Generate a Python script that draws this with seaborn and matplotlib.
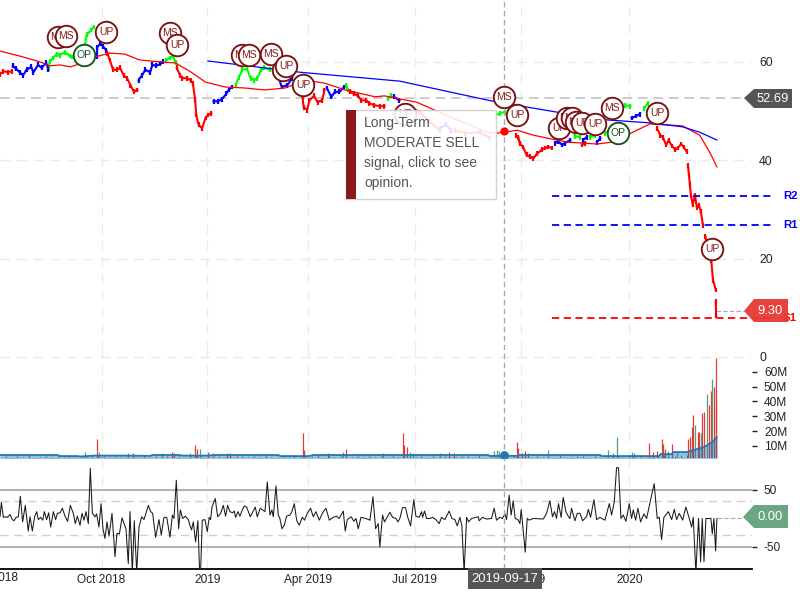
import numpy as np
import pandas as pd
import matplotlib
matplotlib.use("Agg")
import matplotlib.pyplot as plt
from matplotlib.patches import Polygon, Rectangle
from matplotlib.transforms import Affine2D
import seaborn as sns

# ---------- data (x = calendar days from chart start) ----------
x_tick_days = [88, 179.7, 267.1, 359, 451.6, 545.2]
x_tick_labels = ["Oct 2018", "2019", "Apr 2019", "Jul 2019", "Oct 2019", "2020"]

red_days = [
    [0, 3, 7, 10],
    [93, 95, 98, 101, 104, 107, 110, 113, 116, 119],
    [153, 156, 158, 162, 165, 167, 169, 170, 172, 175, 178, 180, 183],
    [262, 263, 266, 268, 272, 275, 279, 281],
    [303, 307, 310, 313, 317, 320, 324, 329, 333],
    [351, 364, 372, 381],
    [394, 403, 416, 424],
    [447, 449, 450, 453, 456, 459, 462, 465, 469, 472, 475, 478],
    [504, 507],
    [569, 572, 574, 577, 579, 582, 585, 587, 590, 592, 595],
    [595.8, 596.7, 597.5, 598.4, 600, 601.9, 603.6, 605.3, 607, 608.8],
    [611, 613],
    [616, 617.5, 620],
    [620, 620.1],
]
red_vals = [
    [57.5, 58.1, 57.9, 58.1],
    [61.8, 60.4, 58.4, 58.4, 58.8, 57.3, 56.7, 55.3, 53.9, 54.3],
    [58.8, 57.3, 56.7, 56.7, 56.3, 55.7, 52.3, 49.2, 47.2, 46.5, 48.6, 49.2, 49.6],
    [52.9, 50.8, 50.2, 52.2, 53.1, 51.8, 52.2, 54.3],
    [53.9, 53.5, 53.1, 52.2, 52.2, 51.6, 51.2, 51.0, 51.0],
    [51.2, 49.8, 47.8, 46.1],
    [46.1, 45.5, 45.7, 44.5],
    [45.1, 44.7, 43.5, 42.7, 41.1, 40.7, 40.4, 41.3, 42.1, 42.5, 42.7, 42.5],
    [43.1, 43.5],
    [46.5, 45.1, 44.7, 43.1, 44.1, 42.9, 42.1, 42.5, 43.3, 42.7, 41.7],
    [39.0, 37.0, 35.0, 32.9, 30.9, 32.9, 30.3, 30.9, 29.5, 26.8],
    [24.4, 22.1],
    [19.7, 15.6, 13.6],
    [11.3, 8.4],
]
blue_days = [
    [11, 14, 17, 20, 23, 27, 29, 33, 36, 40, 42],
    [84, 84.2, 87, 89, 92],
    [120, 123, 126, 130, 132, 135, 139, 141],
    [185, 189, 192, 196, 198, 201],
    [237, 241, 244, 249, 253],
    [283, 287, 290, 294, 298],
    [341, 346],
    [381, 386, 391],
    [481, 483, 487, 489, 494],
    [505, 508],
    [517, 520],
    [547, 551, 554],
]
blue_vals = [
    [59.2, 58.6, 57.9, 57.3, 58.4, 59.0, 57.9, 59.4, 58.8, 59.8, 58.4],
    [61.0, 63.0, 63.8, 63.2, 62.4],
    [56.3, 57.3, 58.4, 57.9, 59.4, 59.2, 59.6, 60.0],
    [52.0, 52.0, 52.4, 53.5, 54.3, 54.9],
    [57.9, 57.1, 54.9, 55.3, 56.7],
    [54.7, 52.9, 53.9, 53.9, 54.9],
    [52.9, 52.2],
    [46.5, 47.2, 46.1],
    [43.5, 43.9, 43.1, 43.5, 44.1],
    [44.1, 44.7],
    [43.7, 44.5],
    [48.6, 49.0, 49.4],
]
green_days = [
    [42, 43, 46, 49, 52, 56, 61, 62, 73, 75, 79, 81],
    [144, 147, 150, 152],
    [204, 207, 210, 214, 217, 220, 223, 226, 229, 234],
    [300, 301],
    [336, 339],
    [430, 433, 437],
    [498, 502],
    [511, 515],
    [524, 528],
    [541, 546],
    [558, 561],
]
green_vals = [
    [58.4, 60.0, 60.8, 61.6, 61.4, 62.0, 61.2, 61.0, 62.8, 65.5, 66.5, 67.1],
    [60.4, 60.8, 61.2, 59.8],
    [55.3, 56.9, 58.4, 58.6, 56.7, 56.3, 56.7, 58.4, 58.8, 58.4],
    [55.3, 54.3],
    [52.6, 53.1],
    [49.2, 49.6, 49.8],
    [44.9, 44.7],
    [44.7, 45.1],
    [45.5, 46.1],
    [51.2, 51.0],
    [50.6, 51.6],
]

ma_fast_days = [0, 17, 35, 43, 52, 61, 69, 82, 95, 108, 121, 139, 152, 165, 178, 195, 212, 229, 247,
                264, 281, 299, 325, 333, 361, 390, 422, 430, 448, 462, 474, 491, 517, 531, 548, 563,
                591, 606, 615, 621]
ma_fast_vals = [62.2, 61.2, 60.0, 59.2, 59.4, 59.0, 59.6, 61.0, 61.8, 61.6, 60.4, 60.0, 59.8, 58.0, 55.9,
                54.9, 54.7, 54.3, 54.7, 56.3, 55.7, 54.3, 52.9, 53.1, 51.8, 48.8, 45.7, 45.5, 46.1,
                45.1, 44.5, 43.7, 43.3, 43.7, 45.7, 47.4, 47.0, 45.1, 41.5, 38.6]
ma_slow_days = [180, 260, 346, 427, 482, 526, 563, 591, 606, 621]
ma_slow_vals = [60.2, 57.9, 56.1, 52.0, 49.8, 48.2, 47.6, 46.8, 45.7, 44.1]

last_close = 52.69
last_price = 9.30
level_names = ["R2", "R1", "S1"]
level_vals = [32.7, 26.8, 7.9]
level_colors = ["#0000ff", "#0000ff", "#ff0000"]

sig_days = [50.2, 57.2, 72.7, 91.8, 147.2, 153.3, 209.6, 215.6, 234.7, 245, 247.7, 262.4, 350.7,
            436.5, 447.7, 484.1, 491, 495.4, 498.8, 504, 515.3, 530, 535.2, 569, 616.6]
sig_vals = [65.1, 65.3, 61.4, 66.1, 65.9, 63.4, 61.4, 61.4, 61.6, 58.4, 59.2, 55.3, 49.4,
            52.9, 49.2, 46.6, 48.6, 48.6, 47.8, 47.6, 47.4, 50.6, 45.5, 49.6, 21.9]
sig_text = ["MS", "MS", "OP", "UP", "MS", "UP", "MS", "MS", "MS", "UP", "UP", "UP", "UP",
            "MS", "UP", "UP", "MS", "MS", "MS", "UP", "UP", "MS", "OP", "UP", "UP"]

red_vol_days = [84, 115, 149, 151, 169, 171, 180, 197, 199, 262, 262.9, 263.6, 284, 300, 332, 349, 350,
                352.5, 389, 393, 448, 449, 452, 455, 457, 562, 565.5, 569, 573, 574, 576, 582, 596,
                597.5, 599, 600, 604.5, 605, 608, 609.7, 614, 615.7, 618, 620, 620.5]
red_vol_vals = [14.7, 5, 6, 5, 11, 8, 6, 5, 5, 18.5, 7, 6, 5, 8, 5, 18.5, 11, 9, 6, 5, 12.5, 8.5, 5.5, 6.5,
                5.5, 12, 6, 6.5, 15, 11.3, 8, 11.3, 15, 16, 23, 31, 19.5, 19.5, 32, 33, 37.6, 47, 50,
                41, 69]
green_vol_days = [73.6, 85.7, 111, 140, 164.5, 173, 184.5, 297, 355, 357.7, 381, 428, 430.4, 432,
                  474.6, 527, 531, 534.3, 547, 549, 578.5, 586, 602, 607, 612, 616.6]
green_vol_vals = [6, 6, 5, 5, 5, 8, 5, 6, 6, 5, 5, 6.5, 7, 6.5, 7, 7, 5, 16, 6, 5, 6.5, 6.5, 24, 19, 45, 55]

base_vol_vals = [2.8, 3.4, 2.6, 3.1, 2.5, 3.6, 2.9, 2.4, 3.2, 2.7, 3.5, 2.6, 3.0, 2.4, 3.3, 2.8, 3.6, 2.5,
                 3.1, 2.7, 3.4, 2.6, 2.9, 3.7, 2.4, 3.2, 2.8, 3.5, 2.5, 3.0, 2.6, 3.4, 2.9, 2.4, 3.6, 2.7,
                 3.1, 2.5, 3.3, 2.8, 2.6, 3.5, 3.0, 2.4, 3.2, 2.7, 3.6, 2.5, 2.9, 3.3, 2.6, 3.4, 2.8, 2.4,
                 3.1, 3.7, 2.6, 3.0, 2.5, 3.4, 2.9, 2.7, 3.5, 2.4, 3.2, 2.8, 3.0, 2.6, 3.6, 2.5, 3.3, 2.9,
                 2.4, 3.1, 2.7, 3.5, 2.6, 3.2, 2.8, 2.5, 3.4, 3.0, 2.7, 3.6, 2.4, 3.1, 2.9, 3.3, 2.5, 3.5,
                 2.6, 3.0, 2.8, 3.4, 2.4, 3.2, 2.7, 3.6, 2.9, 2.5, 3.1, 3.3, 2.6, 3.5, 2.8, 2.4, 3.0, 3.4,
                 2.7, 3.2, 2.5, 3.6, 2.9, 2.6, 3.1, 3.7, 2.8, 3.3, 3.6, 4.2, 3.8, 4.5, 5.1]

vol_ma_days = [0, 50, 52, 68, 69, 82, 112, 130, 132, 156, 158, 180, 186, 241, 243, 268, 271, 423, 424,
               448, 450, 520, 521, 571, 572, 582, 583, 595, 604, 610, 617, 621]
vol_ma_vals = [3.9, 3.9, 3.2, 3.2, 2.9, 3.5, 3.5, 3.3, 3.9, 3.9, 3.5, 3.5, 3.9, 3.9, 3.2, 3.2, 3.9, 3.9, 3.3,
               3.3, 3.9, 3.9, 3.2, 3.2, 4.5, 4.5, 5.9, 5.9, 8.0, 9.3, 12.7, 16.0]

osc_days = [0, 1.2, 2.9, 4.6, 6.4, 8.7, 10.7, 12.1, 13.9, 15.9, 17.6, 19.6, 21.9, 24.5, 26, 28, 30, 31.8, 33.2,
            35.2, 37, 38.4, 40.4, 42.2, 43.9, 46.2, 48.2, 49.7, 52, 54, 56.3, 58.6, 60.9, 63.5, 65.2, 67, 69.3,
            71, 72.8, 74.5, 76.5, 78.2, 80, 82.3, 83.7, 85.7, 87.5, 89.2, 90.9, 92.7, 94.4, 97, 99.6, 101.3,
            103.4, 105.7, 109.1, 111.1, 112.6, 114.6, 116.3, 118.4, 120.4, 122.7, 124.7, 128.5, 130.5, 132.2,
            134.8, 137.7, 139.7, 142, 144.4, 147.2, 149.3, 150.7, 152.7, 154.7, 156.2, 158.2, 160.5, 163.1,
            164.5, 165.9, 167.4, 169.4, 171.4, 172.9, 173.7, 175.2, 177.5, 179.5, 181.2, 182.4, 183.6, 186.4,
            188.5, 191.1, 193.4, 195.4, 197.1, 199.1, 201.5, 202.9, 204, 206.1, 207.8, 209.8, 211.6, 213.6,
            216.8, 221.1, 222.8, 225.4, 229.5, 231.5, 233.8, 235.5, 236.7, 239, 241, 242.4, 244.2, 246.2,
            248.2, 251.1, 252.8, 254.9, 256.9, 259.2, 261.8, 263.8, 266.1, 269, 271.3, 273.6, 276.5, 279.4,
            282.3, 285.2, 288.6, 291.5, 293.8, 297.3, 299, 300.8, 304.2, 306.5, 308.3, 310.3, 312.6, 316.9,
            320.4, 323, 325.3, 327.6, 329, 331.3, 333, 337.7, 340, 342.9, 344.6, 346.3, 348.6, 351.2, 353,
            355.6, 358.4, 360.2, 363.1, 365.1, 366, 367.7, 369.4, 372.3, 374.6, 377.5, 380.4, 382.4, 385.3,
            389, 391.4, 394, 396, 398.3, 400, 402, 404.1, 405.8, 408.4, 414.2, 415, 417.9, 421.4, 425.7, 428,
            430, 432.9, 435.2, 437.3, 438.7, 441, 442.7, 444.5, 446.2, 448.5, 450.3, 451.4, 454.9, 456.6,
            458.3, 461.8, 470.5, 473.4, 476.2, 478.5, 480.3, 482, 483.7, 486, 487.8, 490.1, 492.4, 493.6, 495,
            497.9, 500, 502.3, 504.6, 508, 509.5, 511.5, 514.4, 516.7, 519.6, 523.9, 527.7, 529.7, 532, 534,
            535.7, 537.8, 539.8, 542.1, 545, 547, 548.5, 550.5, 552.5, 554.8, 557.7, 560, 563.5, 566.6, 569.2,
            571, 573, 575, 578.8, 581.7, 584, 586, 588.3, 591.2, 594, 597, 599, 600.4, 602.7, 605, 606.8, 608.2,
            609.7, 611.4, 615.7, 616.9, 618.3, 619.8, 620.9]
osc_vals = [3, 28, 2, 3, 2, 7, -2, -4, 2, 3, 39, -6, 23, -22, 3, -22, 3, 12, -2,
            2, -3, 12, -2, 10, -15, 12, -2, 9, 10, 18, 4, -5, 23, 9, -9, 4, -12,
            9, -3, 12, -9, 88, 9, 3, 8, -15, 26, -18, -35, -6, -31, 9, -67, -26,
            -27, 1, -18, -79, 12, -95, -4, -95, -15, 3, -2, 23, 12, 9,
            -33, -2, -29, 2, 2, -33, 6, 0, 67, -18, 15, 0, 4, -2,
            -12, -20, -6, -41, -4, -95, -95, -3, -2, -23, 2, -2, 20, 35,
            3, 9, 23, 4, 23, 12, 10, 13, 2, 12, 4, 15, 22, 20,
            3, 20, 3, 18, 12, 64, 6, 15, 3, 57, 6, 0, -18, -12,
            4, 6, 12, 26, -3, -12, 2, -3, 9, 18, 3, 12, -3, 10,
            18, -3, 2, 4, 0, 13, -22, -2, 3, -5, 0, -18, 2, 0,
            -3, 38, -18, -9, -50, 6, -6, 11, 2, 0, -6, 0, 19, 19, 3,
            -13, 33, 4, 2, 12, 2, 13, 0, 0, 2, -2, -9, 2, -2,
            13, 0, -2, -13, 2, -12, -95, 2, -6, 0, 3, -4, 2, -1, 0, 18,
            -3, 2, 0, 8, -2, 41, 6, 31, 0, -2, -9, 16, -59, 0,
            -3, 0, -1, 9, 31, 3, 12, 0, 26, 2, 37, 12, 3, 0, 18,
            -4, 9, 9, -4, 3, 16, 2, 33, -2, 2, -3, 26, 6, 29, 89,
            89, 0, 6, -5, 26, 0, 15, -3, 18, -6, 8, 0, 33, 61, 0,
            2, -37, 2, 12, -2, 16, -2, 9, -3, 20, 0, -15, 2, -95, 0, -76, 0,
            -76, 0, 0, -27, 0, -57, 0]

cursor_day = 436.9
cursor_label = "2019-09-17"

# ---------- style ----------
sns.set_theme(style="white")
plt.rcParams["font.family"] = ["Liberation Sans", "DejaVu Sans"]
W, H = 800, 600
fig = plt.figure(figsize=(8, 6), dpi=100, facecolor="white")
to_px = Affine2D().scale(1, -1).translate(0, H)  # top-left pixel frame for chart furniture


def axes_px(top, bottom, right=752):
    return fig.add_axes([0, 1 - bottom / H, right / W, (bottom - top) / H])


ax_p = axes_px(0, 350)
ax_v = axes_px(350, 458)
ax_o = axes_px(458, 568.5)
GRID = "#ebebeb"
for ax in (ax_p, ax_v, ax_o):
    ax.set_xlim(0, 651.3)
    ax.set_xticks(x_tick_days)
    ax.set_xticklabels([])
    ax.grid(True, axis="x", color=GRID, lw=1, ls=(0, (7, 5)))
    ax.set_axisbelow(True)
    ax.yaxis.tick_right()
    for s in ax.spines.values():
        s.set_visible(False)
    ax.patch.set_alpha(0)

TXT = "#222222"
# ---------- price ----------
ax_p.set_ylim(1.4, 72.6)
ax_p.set_yticks([20, 40, 60])
ax_p.grid(True, axis="y", color=GRID, lw=1, ls=(0, (7, 5)))
ax_p.tick_params(axis="y", length=0, pad=5, labelsize=8.8, labelcolor=TXT)

frames = []
for name, days, vals in (("up", green_days, green_vals), ("flat", blue_days, blue_vals), ("down", red_days, red_vals)):
    for i, (d, v) in enumerate(zip(days, vals)):
        frames.append(pd.DataFrame({"day": d, "price": v, "trend": name, "seg": f"{name}{i}"}))
price_df = pd.concat(frames, ignore_index=True)
trend_colors = {"up": "#00ff00", "flat": "#0000ff", "down": "#ff0000"}
sns.lineplot(data=price_df, x="day", y="price", hue="trend", units="seg", estimator=None, sort=False,
             palette=trend_colors, lw=1.5, legend=False, ax=ax_p, zorder=3, solid_capstyle="projecting")
# session high-low bars
ax_p.vlines(price_df["day"], price_df["price"] - 0.5, price_df["price"] + 0.5,
            colors=price_df["trend"].map(trend_colors), lw=1.6, zorder=3)
sns.lineplot(x=ma_fast_days, y=ma_fast_vals, color="#ff0000", lw=0.9, ax=ax_p, zorder=4, sort=False)
sns.lineplot(x=ma_slow_days, y=ma_slow_vals, color="#0000ff", lw=0.9, ax=ax_p, zorder=4, sort=False)

ax_p.axhline(last_close, color="#cccccc", lw=1.4, ls=(0, (5, 3)), xmax=744 / 752, zorder=2)
for name, val, col in zip(level_names, level_vals, level_colors):
    ax_p.plot([478, 671], [val, val], color=col, lw=1.3, ls=(0, (4, 2.5)), clip_on=False, zorder=5)
    ax_p.text(678, val, name, color=col, fontsize=8.2, fontweight="bold", va="center", ha="left", clip_on=False)

ax_p.plot([620, 644], [last_price, last_price], color="#aaaaaa", lw=0.8, ls=(0, (4, 2)), clip_on=False, zorder=2)

z = 10
for d, v, t in zip(sig_days, sig_vals, sig_text):
    col = "#14551f" if t == "OP" else "#7a1212"
    txt = "#14551f" if t == "OP" else "#8b1a1a"
    ax_p.scatter([d], [v], s=240, facecolor="white", edgecolor=col, linewidth=1.35, zorder=z, clip_on=False)
    ax_p.text(d, v, t, color=txt, fontsize=7.5, ha="center", va="center", zorder=z + 0.5)
    z += 1

# ---------- volume ----------
ax_v.set_ylim(1.9, 74.7)
ax_v.set_yticks([10, 20, 30, 40, 50, 60])
ax_v.set_yticklabels(["10M", "20M", "30M", "40M", "50M", "60M"])
ax_v.tick_params(axis="y", length=3.6, width=1, color=TXT, pad=5, labelsize=8.6, labelcolor=TXT, right=True)
ax_v.axhline(70, color=GRID, lw=1, ls=(0, (7, 5)), zorder=0)
ax_v.text(759 / 752, 70, "0", transform=ax_v.get_yaxis_transform(), fontsize=8.8, color=TXT,
          va="center_baseline", clip_on=False)

base_days = np.arange(len(base_vol_vals)) * 5.0
base_cols = ["#e53935" if i % 2 else "#5a9e78" for i in range(len(base_vol_vals))]
ax_v.vlines(base_days, 0, base_vol_vals, colors=base_cols, lw=0.8)
ax_v.vlines(red_vol_days, 0, red_vol_vals, colors="#e53935", lw=0.9, zorder=2)
ax_v.vlines(green_vol_days, 0, green_vol_vals, colors="#5a9e78", lw=0.9, zorder=2)
ax_v.fill_between(vol_ma_days, 0, vol_ma_vals, color="#1f77b4", alpha=0.45, lw=0, zorder=3)
sns.lineplot(x=vol_ma_days, y=vol_ma_vals, color="#1f77b4", lw=1.3, ax=ax_v, zorder=4, sort=False)

# ---------- oscillator ----------
ax_o.set_ylim(-87.7, 106)
ax_o.set_yticks([-50, 50])
ax_o.set_yticklabels(["-50", "50"])
ax_o.tick_params(axis="y", length=3.6, width=1, color=TXT, pad=5, labelsize=8.6, labelcolor=TXT, right=True)
ax_o.spines["bottom"].set_visible(True)
ax_o.spines["bottom"].set_color("black")
ax_o.spines["bottom"].set_linewidth(1.3)
for v in (50, -50):
    ax_o.axhline(v, color="#b3b3b3", lw=1.5, zorder=1)
for v in (30.7, -29):
    ax_o.axhline(v, color="#d0d0d0", lw=1, ls=(0, (6, 4)), zorder=1)
sns.lineplot(x=osc_days, y=osc_vals, color="#1a1a1a", lw=0.75, ax=ax_o, zorder=3, sort=False)
ax_o.plot([621, 644], [0, 0], color="#aaaaaa", lw=0.8, ls=(0, (4, 2)), clip_on=False, zorder=2)

# x labels
ax_o.set_xticklabels(x_tick_labels, fontsize=8.6, color=TXT)
ax_o.tick_params(axis="x", length=0, pad=4)
ax_o.text(-4, -0.0885, "Jul 2018", transform=ax_o.get_xaxis_transform(), fontsize=8.6, color=TXT,
          ha="center", va="center", clip_on=False)

# crosshair line and dots
for ax in (ax_p, ax_v, ax_o):
    ax.axvline(cursor_day, color="#aaaaaa", lw=1, ls=(0, (4, 2.5)), zorder=7)
    ax.set_xlabel("")
    ax.set_ylabel("")
ax_p.scatter([cursor_day], [45.9], s=24, color="#ff0000", zorder=8)
ax_v.scatter([cursor_day], [3.6], s=28, color="#1f77b4", zorder=8)


# ---------- overlay furniture in page pixels ----------
def tag(points, color, text, tx, ty, alpha=1.0):
    fig.add_artist(Polygon(points, closed=True, transform=to_px, facecolor=color, edgecolor="none", alpha=alpha,
                           zorder=30))
    t = to_px.transform((tx, ty))
    fig.text(t[0] / W, t[1] / H, text, color="white", fontsize=9.4, ha="center", va="center", zorder=31)


tag([(744, 98), (754, 89), (792, 89), (792, 108), (754, 108)], "#555555", f"{last_close:.2f}", 773, 98.5)
tag([(744, 311), (754, 299), (788, 299), (788, 322), (754, 322)], "#e53935", f"{last_price:.2f}", 770, 310.5, 0.95)
tag([(743, 517), (754, 505), (788, 505), (788, 528), (754, 528)], "#6aa781", "0.00", 770, 517.5)
tag([(468, 568), (542, 568), (542, 589), (468, 589)], "#555555", cursor_label, 504.5, 578.5)

fig.add_artist(Rectangle((346, 110), 149.5, 89, transform=to_px, facecolor="white", edgecolor="#cccccc", lw=1,
                         alpha=0.88, zorder=25))
fig.add_artist(Rectangle((346, 110), 10, 89, transform=to_px, facecolor="#8b1a1a", edgecolor="none", zorder=26))
note_lines = ["Long-Term", "MODERATE SELL", "signal, click to see", "opinion."]
for line, py in zip(note_lines, [123, 143, 163, 183]):
    t = to_px.transform((364, py))
    fig.text(t[0] / W, t[1] / H, line, color="#555555", fontsize=10, ha="left", va="center", zorder=27)

fig.savefig("out.png", dpi=100)
